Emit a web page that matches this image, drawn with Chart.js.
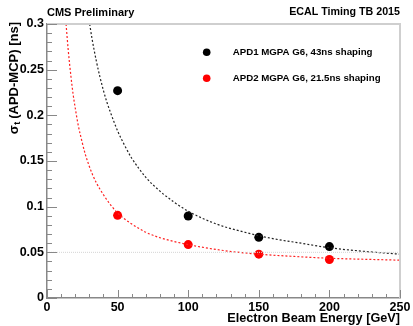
<!DOCTYPE html>
<html>
<head>
<meta charset="utf-8">
<script src="https://cdn.jsdelivr.net/npm/chart.js@4/dist/chart.umd.min.js"></script>
<style>
  html, body { margin: 0; padding: 0; background: #fff; }
  #wrap { width: 413px; height: 326px; position: relative; }
</style>
</head>
<body>
<div id="wrap"><canvas id="c" width="413" height="326"></canvas></div>
<script>
// ---- data ----
const energies = [50, 100, 150, 200];
const apd1Sigma = [0.227, 0.0898, 0.0664, 0.0563];
const apd2Sigma = [0.0905, 0.0585, 0.048, 0.0422];

const apd1FitE = [30.2, 32, 35, 37.5, 40, 42.5, 45, 50, 55, 60, 65, 70, 80, 90, 100, 120, 140, 160, 180, 200, 225, 250];
const apd1FitSigma = [0.300, 0.283, 0.259, 0.242, 0.227, 0.214, 0.203, 0.183, 0.167, 0.153, 0.142, 0.132, 0.117, 0.105, 0.095, 0.081, 0.072, 0.065, 0.060, 0.055, 0.051, 0.048];

const apd2FitE = [13.5, 15, 17, 18.5, 20, 22, 25, 27, 30, 32, 35, 40, 45, 50, 55, 60, 70, 80, 100, 125, 150, 175, 200, 225, 250];
const apd2FitSigma = [0.300, 0.272, 0.242, 0.223, 0.208, 0.190, 0.170, 0.158, 0.144, 0.136, 0.126, 0.113, 0.102, 0.093, 0.0865, 0.081, 0.072, 0.066, 0.0585, 0.052, 0.048, 0.0455, 0.0435, 0.0424, 0.0414];

const refLevel = 0.05;
const refRangeE = [0, 250];

const xTickValues = [0, 50, 100, 150, 200, 250];
const xTickLabels = ['0', '50', '100', '150', '200', '250'];
const yTickValues = [0, 0.05, 0.1, 0.15, 0.2, 0.25, 0.3];
const yTickLabels = ['0', '0.05', '0.1', '0.15', '0.2', '0.25', '0.3'];

const seriesLabels = ['APD1 MGPA G6, 43ns shaping', 'APD2 MGPA G6, 21.5ns shaping'];
const seriesColors = ['#000000', '#ff0000'];

const FONT = '"Liberation Sans", Arial, Helvetica, sans-serif';

function pts(xs, ys) { return xs.map((x, i) => ({ x: x, y: ys[i] })); }

const decor = {
  id: 'decor',
  afterDraw(chart) {
    const ctx = chart.ctx;
    const xs = chart.scales.x, ys = chart.scales.y;
    const a = chart.chartArea;
    ctx.save();
    // top & right frame
    ctx.strokeStyle = '#cfcfcf';
    ctx.lineWidth = 2;
    ctx.beginPath();
    ctx.moveTo(a.left, a.top);
    ctx.lineTo(a.right, a.top);
    ctx.lineTo(a.right, a.bottom);
    ctx.stroke();
    // inward ticks
    ctx.strokeStyle = '#888';
    ctx.lineWidth = 1;
    ctx.beginPath();
    for (let v = 0; v <= 250.001; v += 10) {
      const px = Math.round(xs.getPixelForValue(v)) + 0.5;
      const len = (Math.round(v) % 50 === 0) ? 8 : 4;
      ctx.moveTo(px, a.bottom);
      ctx.lineTo(px, a.bottom - len);
    }
    for (let k = 0; k <= 30; k++) {
      const v = k / 100;
      const py = Math.round(ys.getPixelForValue(v)) + 0.5;
      const len = (k % 5 === 0) ? 10 : 5;
      ctx.moveTo(a.left, py);
      ctx.lineTo(a.left + len, py);
    }
    ctx.stroke();

    // header texts
    ctx.fillStyle = '#000';
    ctx.textBaseline = 'middle';
    ctx.font = 'bold 11px ' + FONT;
    ctx.textAlign = 'left';
    ctx.fillText('CMS Preliminary', a.left, 12.5);
    ctx.font = 'bold 10.7px ' + FONT;
    ctx.textAlign = 'right';
    ctx.fillText('ECAL Timing TB 2015', a.right, 12.5);

    // x title
    ctx.font = 'bold 12.7px ' + FONT;
    ctx.textAlign = 'right';
    ctx.fillText('Electron Beam Energy [GeV]', a.right, 318);

    // y title (rotated, with subscript)
    ctx.save();
    ctx.translate(14, 22);
    ctx.rotate(-Math.PI / 2);
    ctx.textAlign = 'left';
    ctx.textBaseline = 'middle';
    const big = 'bold 13px ' + FONT;
    const small = 'bold 9px ' + FONT;
    ctx.font = big;
    const w1 = ctx.measureText('σ').width;
    const rest = ' (APD-MCP) [ns]';
    const w3 = ctx.measureText(rest).width;
    ctx.font = small;
    const w2 = ctx.measureText('t').width;
    const total = w1 + w2 + w3;
    let x0 = -total;
    ctx.font = big;
    ctx.fillText('σ', x0, 0);
    ctx.font = small;
    ctx.fillText('t', x0 + w1 + 0.5, 3.5);
    ctx.font = big;
    ctx.fillText(rest, x0 + w1 + w2, 0);
    ctx.restore();

    // legend
    ctx.font = 'bold 9.7px ' + FONT;
    ctx.textAlign = 'left';
    ctx.textBaseline = 'middle';
    const legY = [52.3, 78.3];
    for (let i = 0; i < 2; i++) {
      ctx.fillStyle = seriesColors[i];
      ctx.beginPath();
      ctx.arc(206.7, legY[i], 3.8, 0, Math.PI * 2);
      ctx.fill();
      ctx.fillStyle = '#000';
      ctx.fillText(seriesLabels[i], 232.7, legY[i]);
    }
    ctx.restore();
  }
};

new Chart(document.getElementById('c'), {
  type: 'scatter',
  data: {
    datasets: [
      {
        label: 'ref',
        data: [{ x: refRangeE[0], y: refLevel }, { x: refRangeE[1], y: refLevel }],
        showLine: true, pointRadius: 0, borderColor: '#d4d4d4', borderWidth: 1,
        borderDash: [1, 1]
      },
      {
        label: 'fit1',
        data: pts(apd1FitE, apd1FitSigma),
        showLine: true, pointRadius: 0, borderColor: '#222', borderWidth: 1.2,
        borderDash: [2, 2], cubicInterpolationMode: 'monotone'
      },
      {
        label: 'fit2',
        data: pts(apd2FitE, apd2FitSigma),
        showLine: true, pointRadius: 0, borderColor: '#ff2020', borderWidth: 1.2,
        borderDash: [2, 2], cubicInterpolationMode: 'monotone'
      },
      {
        label: seriesLabels[0],
        data: pts(energies, apd1Sigma),
        pointRadius: 4.5, pointBackgroundColor: seriesColors[0], pointBorderWidth: 0,
        borderColor: seriesColors[0]
      },
      {
        label: seriesLabels[1],
        data: pts(energies, apd2Sigma),
        pointRadius: 4.5, pointBackgroundColor: seriesColors[1], pointBorderWidth: 0,
        borderColor: seriesColors[1]
      }
    ]
  },
  options: {
    responsive: false,
    animation: false,
    events: [],
    layout: { padding: { left: 0, right: 13, top: 24, bottom: 0 } },
    plugins: { legend: { display: false }, tooltip: { enabled: false }, title: { display: false } },
    scales: {
      x: {
        type: 'linear', min: 0, max: 250,
        afterFit(s) { s.height = 28; },
        afterBuildTicks(s) { s.ticks = xTickValues.map(v => ({ value: v })); },
        ticks: {
          callback: (v, i) => xTickLabels[i],
          font: { family: FONT, size: 12.5, weight: 'bold' }, color: '#000', padding: 2,
          maxRotation: 0, autoSkip: false
        },
        grid: { display: false, drawTicks: false },
        border: { display: true, color: '#888', width: 1.5 }
      },
      y: {
        type: 'linear', min: 0, max: 0.3,
        afterFit(s) { s.width = 47; },
        afterBuildTicks(s) { s.ticks = yTickValues.map(v => ({ value: v })); },
        ticks: {
          callback: (v, i) => yTickLabels[i],
          font: { family: FONT, size: 12.5, weight: 'bold' }, color: '#000', padding: 3,
          autoSkip: false
        },
        grid: { display: false, drawTicks: false },
        border: { display: true, color: '#888', width: 1.5 }
      }
    }
  },
  plugins: [decor]
});
</script>
</body>
</html>
